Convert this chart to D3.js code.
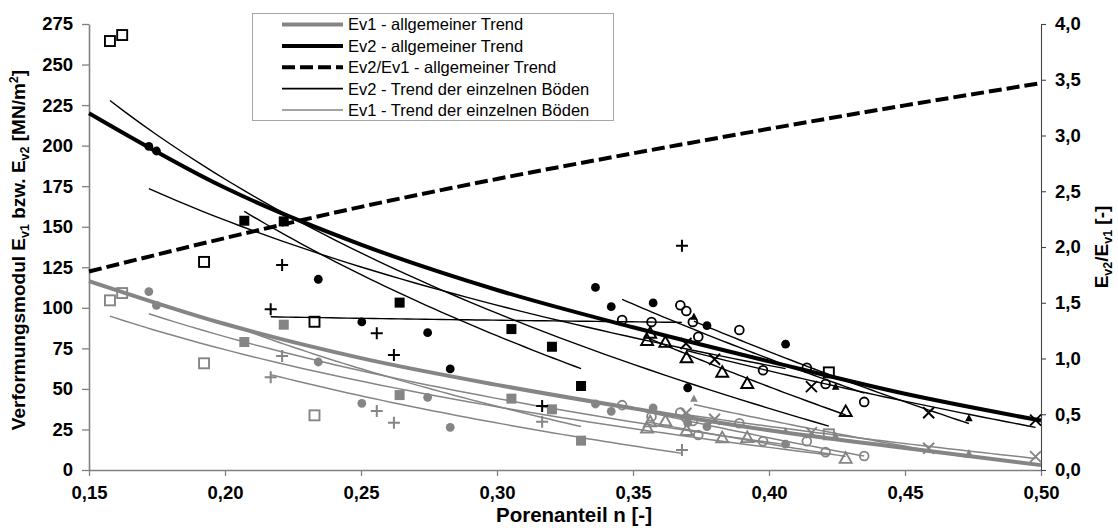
<!DOCTYPE html>
<html>
<head>
<meta charset="utf-8">
<script src="https://cdn.jsdelivr.net/npm/d3@7"></script>
<style>
  body { margin: 0; background: #fff; }
  svg { display: block; }
  text { font-family: "Liberation Sans", Arial, Helvetica, sans-serif; }
</style>
</head>
<body>
<svg id="chart" width="1118" height="528"></svg>
<script>
// ---- axis ticks -------------------------------------------------------
const xTicks = [0.15, 0.20, 0.25, 0.30, 0.35, 0.40, 0.45, 0.50];
const yTicks = [0, 25, 50, 75, 100, 125, 150, 175, 200, 225, 250, 275];
const ratioTicks = [0.0, 0.5, 1.0, 1.5, 2.0, 2.5, 3.0, 3.5, 4.0];

// ---- measured values per soil (n, Ev2, Ev1); null = no reading ----------
// open squares
const nQuadratOffen   = [0.1577, 0.1622, 0.1923, 0.2329, 0.4220];
const ev2QuadratOffen = [264.5, 268.2, 128.3, 91.4, 60.2];
const ev1QuadratOffen = [104.6, 109.1, 65.8, 33.7, 22.0];
// filled squares
const nQuadratVoll    = [0.2071, 0.2216, 0.2642, 0.3053, 0.3202, 0.3309];
const ev2QuadratVoll  = [153.7, 153.3, 103.2, 86.9, 76.0, 51.8];
const ev1QuadratVoll  = [78.9, 89.6, 46.2, 44.0, 37.4, 18.1];
// filled circles
const nKreisVoll      = [0.1720, 0.1748, 0.2343, 0.2503, 0.2745, 0.2828, 0.3362, 0.3420, 0.3574, 0.3701, 0.3772, 0.4061];
const ev2KreisVoll    = [199.5, 196.7, 117.6, 91.3, 84.7, 62.3, 112.6, 100.7, 103.0, 50.7, 89.0, 77.6];
const ev1KreisVoll    = [110.0, 101.5, 66.6, 41.1, 44.8, 26.3, 40.7, 36.2, 38.3, 29.0, 26.7, 16.0];
// open circles
const nKreisOffen     = [0.3460, 0.3568, 0.3674, 0.3696, 0.3720, 0.3740, 0.3891, 0.3978, 0.4139, 0.4208, 0.4350];
const ev2KreisOffen   = [92.5, 91.2, 101.6, 98.0, 91.3, 82.2, 86.3, 61.5, 63.0, 53.0, 42.0];
const ev1KreisOffen   = [40.0, 33.0, 35.4, 32.0, 30.2, 21.6, 28.8, 17.7, 17.7, 11.0, 8.6];
// plus signs
const nPlus           = [0.2168, 0.2210, 0.2558, 0.2621, 0.3166, 0.3680];
const ev2Plus         = [99.1, 126.4, 84.3, 70.9, 39.5, 138.3];
const ev1Plus         = [57.2, 70.3, 36.4, 29.2, 29.8, 12.3];
// open triangles
const nDreieckOffen   = [0.3552, 0.3563, 0.3619, 0.3697, 0.3828, 0.3920, 0.4282];
const ev2DreieckOffen = [80.2, 84.6, 79.0, 69.5, 60.6, 53.6, 36.4];
const ev1DreieckOffen = [26.2, 30.0, 30.5, 24.7, 20.2, 20.3, 7.5];
// crosses
const nKreuz          = [0.3695, 0.3800, 0.4156, 0.4587, 0.4980];
const ev2Kreuz        = [78.0, 68.3, 51.4, 35.3, 30.8];
const ev1Kreuz        = [35.0, 31.3, 23.0, 13.4, 8.2];
// small filled triangles
const nDreieckVoll    = [0.3724, 0.4061, 0.4245, 0.4735];
const ev2DreieckVoll  = [94.5, null, 51.4, 31.9];
const ev1DreieckVoll  = [44.0, 24.0, 21.0, 10.3];

// ---- general trends (n, value) ------------------------------------------
const nAllgemein           = [0.15, 0.20, 0.25, 0.30, 0.35, 0.40, 0.45, 0.50];
const ev2Allgemein         = [220.0, 174.0, 139.0, 111.0, 88.0, 67.0, 47.0, 30.5];
const ev1Allgemein         = [116.5, 90.0, 69.0, 52.5, 38.0, 24.5, 13.5, 3.0];
const verhaeltnisAllgemein = [1.78, 2.08, 2.36, 2.61, 2.84, 3.06, 3.27, 3.47];

const legendLabels = [
  "Ev1 - allgemeiner Trend",
  "Ev2 - allgemeiner Trend",
  "Ev2/Ev1 - allgemeiner Trend",
  "Ev2 - Trend der einzelnen Böden",
  "Ev1 - Trend der einzelnen Böden"
];

// ---- layout -------------------------------------------------------------
const plot = { left: 89, right: 1041, top: 24, bottom: 470 };
const BLACK = "#000000", GRAY = "#858585";

const svg = d3.select("#chart");

const x = d3.scaleLinear().domain([0.15, 0.50]).range([plot.left, plot.right]);
const y = d3.scaleLinear().domain([0, 275]).range([plot.bottom, plot.top]);
const yR = d3.scaleLinear().domain([0, 4]).range([plot.bottom, plot.top]);

// soils table built from the arrays above
const soils = [
  { shape: "squareOpen",   n: nQuadratOffen, ev2: ev2QuadratOffen, ev1: ev1QuadratOffen },
  { shape: "squareFilled", n: nQuadratVoll,  ev2: ev2QuadratVoll,  ev1: ev1QuadratVoll },
  { shape: "circleFilled", n: nKreisVoll,    ev2: ev2KreisVoll,    ev1: ev1KreisVoll },
  { shape: "circleOpen",   n: nKreisOffen,   ev2: ev2KreisOffen,   ev1: ev1KreisOffen },
  { shape: "plus",         n: nPlus,         ev2: ev2Plus,         ev1: ev1Plus },
  { shape: "triangleOpen", n: nDreieckOffen, ev2: ev2DreieckOffen, ev1: ev1DreieckOffen },
  { shape: "cross",        n: nKreuz,        ev2: ev2Kreuz,        ev1: ev1Kreuz },
  { shape: "triangleSmall",n: nDreieckVoll,  ev2: ev2DreieckVoll,  ev1: ev1DreieckVoll }
];

// (n, value) pairs of one soil, skipping missing readings
function pairs(ns, vs) {
  return ns.map((n, i) => [n, vs[i]]).filter(d => d[1] != null);
}

// ---- logarithmic least-squares trend per soil ---------------------------
function logFit(pts) {
  const lx = pts.map(d => Math.log(d[0]));
  const ys = pts.map(d => d[1]);
  const mx = d3.mean(lx), my = d3.mean(ys);
  let sxy = 0, sxx = 0;
  lx.forEach((v, i) => { sxy += (v - mx) * (ys[i] - my); sxx += (v - mx) * (v - mx); });
  const b = sxy / sxx, a = my - b * mx;
  return n => a + b * Math.log(n);
}
function sampleTrend(f, lo, hi) {
  const steps = 48;
  return d3.range(steps + 1).map(i => {
    const n = lo + (hi - lo) * i / steps;
    return [n, f(n)];
  });
}

// ---- axes ---------------------------------------------------------------
const fmtComma = d => d3.format(".2f")(d).replace(".", ",");
const fmtRatio = d => d3.format(".1f")(d).replace(".", ",");
const axisColor = "#808080";

const gx = svg.append("g")
  .attr("transform", `translate(0,${plot.bottom})`)
  .call(d3.axisBottom(x).tickValues(xTicks).tickFormat(fmtComma).tickSize(6).tickPadding(10).tickSizeOuter(0));
const gy = svg.append("g")
  .attr("transform", `translate(${plot.left},0)`)
  .call(d3.axisLeft(y).tickValues(yTicks).tickSize(7).tickPadding(9).tickSizeOuter(0));
const gr = svg.append("g")
  .attr("transform", `translate(${plot.right},0)`)
  .call(d3.axisRight(yR).tickValues(ratioTicks).tickFormat(fmtRatio).tickSize(5).tickPadding(9).tickSizeOuter(0));

[gx, gy].forEach(g => {
  g.select(".domain").attr("stroke", axisColor).attr("stroke-width", 1.6);
  g.selectAll(".tick line").attr("stroke", axisColor).attr("stroke-width", 1.3);
});
gr.select(".domain").attr("stroke", "#444").attr("stroke-width", 1.1);
gr.selectAll(".tick line").attr("stroke", "#444").attr("stroke-width", 1.1);
[gx, gy, gr].forEach(g => {
  g.selectAll(".tick text")
    .attr("fill", "#000")
    .style("font-family", '"Liberation Sans", Arial, sans-serif')
    .style("font-size", "18.5px")
    .style("font-weight", "bold");
});

// axis titles
svg.append("text")
  .attr("x", 574).attr("y", 522)
  .attr("text-anchor", "middle")
  .style("font-size", "20.5px").style("font-weight", "bold")
  .text("Porenanteil n [-]");

const yTitle = svg.append("text")
  .attr("transform", "translate(25,250) rotate(-90)")
  .attr("text-anchor", "middle")
  .style("font-size", "19px").style("font-weight", "bold");
yTitle.append("tspan").text("Verformungsmodul E");
yTitle.append("tspan").attr("dy", 4).style("font-size", "12.5px").text("v1");
yTitle.append("tspan").attr("dy", -4).text(" bzw. E");
yTitle.append("tspan").attr("dy", 4).style("font-size", "12.5px").text("v2");
yTitle.append("tspan").attr("dy", -4).text(" [MN/m");
yTitle.append("tspan").attr("dy", -7).style("font-size", "12.5px").text("2");
yTitle.append("tspan").attr("dy", 7).text("]");

const rTitle = svg.append("text")
  .attr("transform", "translate(1108,247) rotate(-90)")
  .attr("text-anchor", "middle")
  .style("font-size", "19px").style("font-weight", "bold");
rTitle.append("tspan").text("E");
rTitle.append("tspan").attr("dy", 4).style("font-size", "12.5px").text("v2");
rTitle.append("tspan").attr("dy", -4).text("/E");
rTitle.append("tspan").attr("dy", 4).style("font-size", "12.5px").text("v1");
rTitle.append("tspan").attr("dy", -4).text(" [-]");

// ---- trend lines ----------------------------------------------------------
const lineEv = d3.line().x(d => x(d[0])).y(d => y(d[1]));
const smoothEv = d3.line().curve(d3.curveMonotoneX).x(d => x(d[0])).y(d => y(d[1]));
const smoothRatio = d3.line().curve(d3.curveMonotoneX).x(d => x(d[0])).y(d => yR(d[1]));
const gLines = svg.append("g");

// single soils: gray (Ev1) first, then black (Ev2)
[["ev1", GRAY, 1.5], ["ev2", BLACK, 1.4]].forEach(([key, color, width]) => {
  soils.forEach(s => {
    const pts = pairs(s.n, s[key]);
    const lo = d3.min(pts, d => d[0]), hi = d3.max(pts, d => d[0]);
    gLines.append("path")
      .attr("d", lineEv(sampleTrend(logFit(pts), lo, hi)))
      .attr("fill", "none").attr("stroke", color).attr("stroke-width", width);
  });
});

// general trends
gLines.append("path")
  .attr("d", smoothEv(pairs(nAllgemein, ev1Allgemein)))
  .attr("fill", "none").attr("stroke", GRAY).attr("stroke-width", 4);
gLines.append("path")
  .attr("d", smoothEv(pairs(nAllgemein, ev2Allgemein)))
  .attr("fill", "none").attr("stroke", BLACK).attr("stroke-width", 4);
gLines.append("path")
  .attr("d", smoothRatio(pairs(nAllgemein, verhaeltnisAllgemein)))
  .attr("fill", "none").attr("stroke", BLACK).attr("stroke-width", 4)
  .attr("stroke-dasharray", "13,5");

// ---- markers ----------------------------------------------------------------
function drawMarker(g, shape, color) {
  switch (shape) {
    case "squareOpen":
      g.append("rect").attr("x", -5).attr("y", -5).attr("width", 10).attr("height", 10)
        .attr("fill", "none").attr("stroke", color).attr("stroke-width", 1.9);
      break;
    case "squareFilled":
      g.append("rect").attr("x", -5).attr("y", -5).attr("width", 10).attr("height", 10)
        .attr("fill", color);
      break;
    case "circleFilled":
      g.append("circle").attr("r", 4.4).attr("fill", color);
      break;
    case "circleOpen":
      g.append("circle").attr("r", 4.4).attr("fill", "none")
        .attr("stroke", color).attr("stroke-width", 1.8);
      break;
    case "plus":
      g.append("path").attr("d", "M-6,0H6M0,-6V6")
        .attr("stroke", color).attr("stroke-width", 2).attr("fill", "none");
      break;
    case "triangleOpen":
      g.append("path").attr("d", "M0,-5.6L6,5L-6,5Z")
        .attr("fill", "none").attr("stroke", color).attr("stroke-width", 1.9);
      break;
    case "cross":
      g.append("path").attr("d", "M-5.5,-5.5L5.5,5.5M-5.5,5.5L5.5,-5.5")
        .attr("stroke", color).attr("stroke-width", 1.9).attr("fill", "none");
      break;
    case "triangleSmall":
      g.append("path").attr("d", "M0,-4.2L3.8,3L-3.8,3Z").attr("fill", color);
      break;
  }
}

const gMarks = svg.append("g");
soils.forEach(s => {
  [["ev1", GRAY], ["ev2", BLACK]].forEach(([key, color]) => {
    gMarks.selectAll(null)
      .data(pairs(s.n, s[key]))
      .join("g")
      .attr("transform", d => `translate(${x(d[0])},${y(d[1])})`)
      .each(function () { drawMarker(d3.select(this), s.shape, color); });
  });
});

// ---- legend -----------------------------------------------------------------
const legend = svg.append("g");
legend.append("rect")
  .attr("x", 252.5).attr("y", 13.5).attr("width", 361).attr("height", 107)
  .attr("fill", "#fff").attr("stroke", "#a6a6a6").attr("stroke-width", 1);

const legendStyles = [
  { color: GRAY,  width: 4,   dash: null },
  { color: BLACK, width: 4,   dash: null },
  { color: BLACK, width: 4,   dash: "13,5" },
  { color: BLACK, width: 1.6, dash: null },
  { color: GRAY,  width: 1.6, dash: null }
];
const rowY = d3.scaleLinear().domain([0, 4]).range([24.5, 110]);
legendLabels.forEach((label, i) => {
  const st = legendStyles[i];
  const cy = rowY(i);
  legend.append("line")
    .attr("x1", 282).attr("x2", 343).attr("y1", cy).attr("y2", cy)
    .attr("stroke", st.color).attr("stroke-width", st.width)
    .attr("stroke-dasharray", st.dash);
  legend.append("text")
    .attr("x", 348).attr("y", cy).attr("dy", "0.36em")
    .style("font-size", "16.5px")
    .text(label);
});
</script>
</body>
</html>
